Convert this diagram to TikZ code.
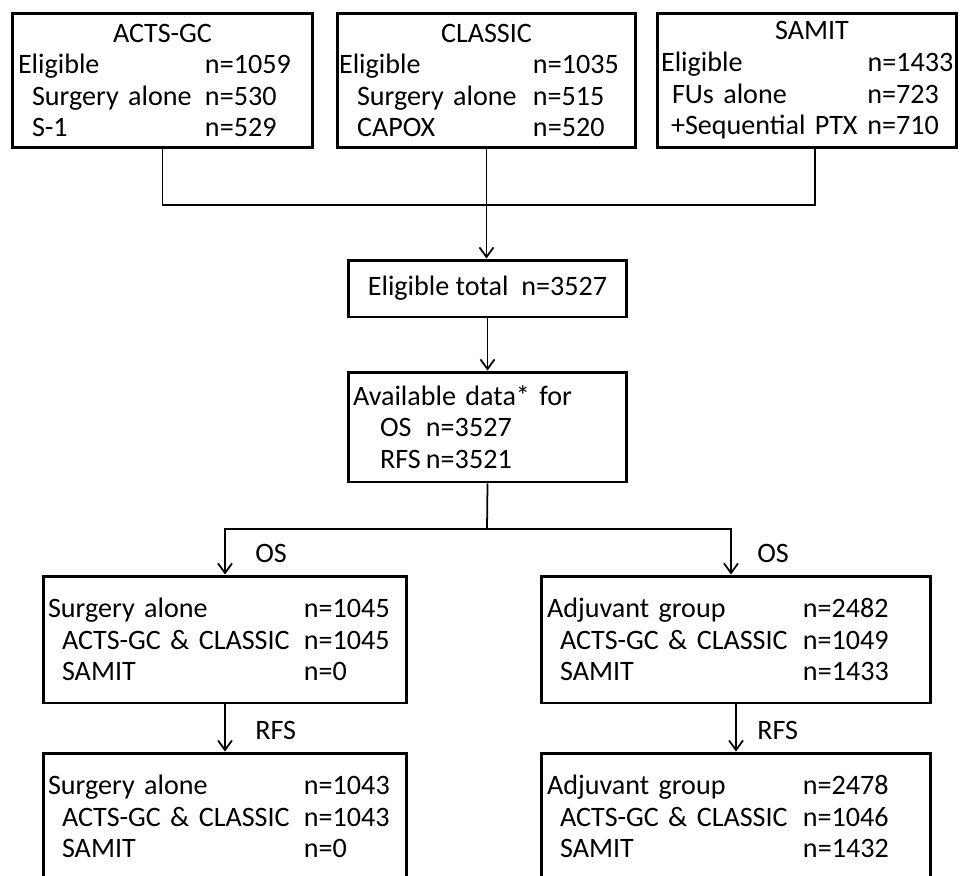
\documentclass[tikz,border=0pt]{standalone}
\usepackage{fontspec}
\setmainfont{Carlito}
\usetikzlibrary{arrows.meta,positioning}

\newlength\ncol
\newcommand\trow[3][0pt]{\hspace*{#1}\makebox[\dimexpr\ncol-#1\relax][l]{#2}#3}

\tikzset{
    box/.style={draw, line width=1.7pt, align=left, font=\fontsize{16}{18}\selectfont},
    link/.style={line width=1pt},
    flow/.style={link, -{Straight Barb[length=5.5pt,width=8pt]}},
    lab/.style={anchor=west, inner sep=0pt, font=\fontsize{16}{18}\selectfont}
}

\begin{document}
\begin{tikzpicture}[x=0.02cm, y=-0.02cm]
            \useasboundingbox (0, 0) rectangle (962, 875);
            \clip (0, 0) rectangle (962, 875);

            % trials
            \node[box, text width=5.78cm, inner xsep=0.12cm, minimum height=2.7cm] (acts) at (162.5, 80.5)
                {\setlength\ncol{3.74cm}\makebox[\hsize]{ACTS-GC}\\
                 \trow{Eligible}{n=1059}\\
                 \trow[0.28cm]{Surgery alone}{n=530}\\
                 \trow[0.28cm]{S-1}{n=529}};
            \node[box, text width=5.9cm, inner xsep=0.04cm, minimum height=2.7cm] (classic) at (486.5, 80.5)
                {\setlength\ncol{3.88cm}\makebox[\hsize]{CLASSIC}\\
                 \trow{Eligible}{n=1035}\\
                 \trow[0.36cm]{Surgery alone}{n=515}\\
                 \trow[0.36cm]{CAPOX}{n=520}};
            \node[box, text width=5.84cm, inner xsep=0.08cm, minimum height=2.7cm] (samit) at (807, 80.5)
                {\setlength\ncol{4.13cm}\makebox[\hsize]{\hspace{0.2cm}SAMIT}\\
                 \trow{Eligible}{n=1433}\\
                 \trow[0.22cm]{FUs alone}{n=723}\\
                 \trow[0.2cm]{+Sequential PTX}{n=710}};

            % pooled
            \node[box, align=center, minimum width=5.58cm, minimum height=1.14cm] (total) at (487.5, 288.5)
                {Eligible total~ n=3527};
            \node[box, text width=5.38cm, inner xsep=0.1cm, minimum height=2.2cm] (avail) at (487.5, 427)
                {\setlength\ncol{1.46cm}Available data* for\\
                 \trow[0.54cm]{OS}{n=3527}\\
                 \trow[0.54cm]{RFS}{n=3521}};

            % groups
            \node[box, text width=7.08cm, inner xsep=0.1cm, minimum height=2.54cm] (osL) at (225, 639.5)
                {\setlength\ncol{5.12cm}\trow{Surgery alone}{n=1045}\\
                 \trow[0.28cm]{ACTS-GC \& CLASSIC}{n=1045}\\
                 \trow[0.28cm]{SAMIT}{n=0}};
            \node[box, text width=7.08cm, inner xsep=0.1cm, minimum height=2.54cm] (rfsL) at (225, 816.5)
                {\setlength\ncol{5.12cm}\trow{Surgery alone}{n=1043}\\
                 \trow[0.28cm]{ACTS-GC \& CLASSIC}{n=1043}\\
                 \trow[0.28cm]{SAMIT}{n=0}};
            \node[box, text width=7.56cm, inner xsep=0.12cm, minimum height=2.54cm] (osR) at (736, 639.5)
                {\setlength\ncol{5.12cm}\trow{Adjuvant group}{n=2482}\\
                 \trow[0.26cm]{ACTS-GC \& CLASSIC}{n=1049}\\
                 \trow[0.26cm]{SAMIT}{n=1433}};
            \node[box, text width=7.56cm, inner xsep=0.12cm, minimum height=2.54cm] (rfsR) at (736, 816.5)
                {\setlength\ncol{5.12cm}\trow{Adjuvant group}{n=2478}\\
                 \trow[0.26cm]{ACTS-GC \& CLASSIC}{n=1046}\\
                 \trow[0.26cm]{SAMIT}{n=1432}};

            % connectors
            \coordinate (merge) at (487, 205);
            \coordinate (split) at (487, 529);
            \draw[link] (acts.south) |- (merge);
            \draw[link] ([xshift=0.16cm]samit.south) |- (merge);
            \draw[flow] (classic.south) -- (classic.south |- total.north);
            \draw[flow] (total) -- (avail);
            \draw[link] (avail.south) -- (split);
            \draw[flow] (split) -| (osL.north);
            \draw[flow] (split) -| ([xshift=-0.1cm]osR.north);
            \draw[flow] (osL) -- (rfsL);
            \draw[flow] (osR) -- (rfsR);

            \node[lab] (osLlab) at (255, 553) {OS};
            \node[lab] (osRlab) at (757, 553) {OS};
            \node[lab] (rfsLlab) at (255, 730) {RFS};
            \node[lab] (rfsRlab) at (757, 730) {RFS};
\end{tikzpicture}
\end{document}
